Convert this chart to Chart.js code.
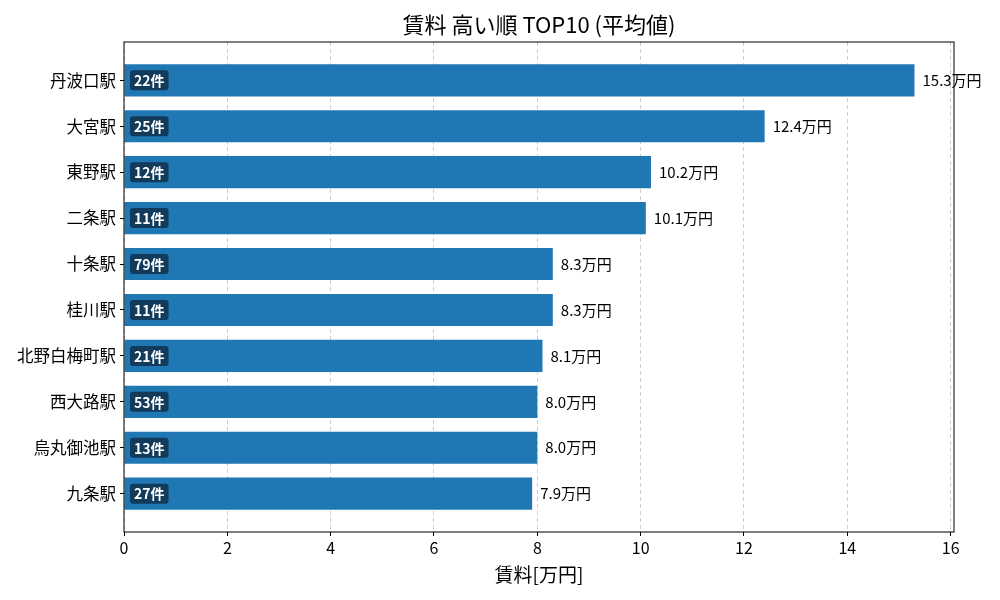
<!DOCTYPE html>
<html>
<head>
<meta charset="utf-8">
<script src="https://cdn.jsdelivr.net/npm/chart.js@4"></script>
<style>
  html, body { margin: 0; padding: 0; background: #fff; }
  #wrap { width: 1000px; height: 600px; }
</style>
</head>
<body>
<div id="wrap"><canvas id="chart" width="1000" height="600"></canvas></div>
<script>
// data
const stations = ['丹波口駅', '大宮駅', '東野駅', '二条駅', '十条駅', '桂川駅', '北野白梅町駅', '西大路駅', '烏丸御池駅', '九条駅'];
const avgRent = [15.3, 12.4, 10.2, 10.1, 8.3, 8.3, 8.1, 8.0, 8.0, 7.9];
const counts = [22, 25, 12, 11, 79, 11, 21, 53, 13, 27];
const xTicks = [0, 2, 4, 6, 8, 10, 12, 14, 16];

const FONT = '"Noto Sans CJK JP", "Noto Sans", sans-serif';
Chart.defaults.font.family = FONT;
Chart.defaults.color = '#000';

// title, axis title, frame and bar labels
const extras = {
    id: 'extras',
    afterDatasetsDraw(chart) {
        const { ctx, chartArea: a, scales: { x, y } } = chart;
        ctx.save();
        ctx.strokeStyle = '#000';
        ctx.lineWidth = 1;
        ctx.strokeRect(a.left, a.top, a.right - a.left, a.bottom - a.top);

        ctx.fillStyle = '#000';
        ctx.textAlign = 'center';
        ctx.textBaseline = 'middle';
        ctx.font = '22px ' + FONT;
        ctx.fillText('賃料 高い順 TOP10 (平均値)', (a.left + a.right) / 2, 25);
        ctx.font = '19px ' + FONT;
        ctx.fillText('賃料[万円]', (a.left + a.right) / 2, 575);

        avgRent.forEach((v, i) => {
            const yc = y.getPixelForValue(i);
            // value label at bar end
            ctx.fillStyle = '#000';
            ctx.textAlign = 'left';
            ctx.font = '15px ' + FONT;
            ctx.fillText(v.toFixed(1) + '万円', x.getPixelForValue(v) + 8, yc);
            // count badge
            const txt = counts[i] + '件';
            ctx.font = 'bold 14px ' + FONT;
            const w = ctx.measureText(txt).width + 8;
            const bx = x.getPixelForValue(0) + 6;
            ctx.fillStyle = '#123a5a';
            ctx.beginPath();
            ctx.roundRect(bx, yc - 10, w, 20, 3);
            ctx.fill();
            ctx.fillStyle = '#fff';
            ctx.fillText(txt, bx + 4, yc + 0.5);
        });
        ctx.restore();
    }
};

new Chart(document.getElementById('chart'), {
    type: 'bar',
    data: {
        datasets: [{
            data: avgRent.map((v, i) => ({ x: v, y: i })),
            backgroundColor: '#1f77b4',
            borderWidth: 0,
            categoryPercentage: 1,
            barPercentage: 0.7
        }]
    },
    options: {
        indexAxis: 'y',
        responsive: false,
        animation: false,
        layout: { padding: { top: 42, right: 46, left: 0, bottom: 0 } },
        plugins: { legend: { display: false }, tooltip: { enabled: false } },
        scales: {
            x: {
                type: 'linear',
                min: 0,
                max: 15.3 * 1.05,
                afterBuildTicks: s => { s.ticks = xTicks.map(v => ({ value: v })); },
                afterFit: s => { s.height = 68; },
                ticks: { font: { size: 16 }, padding: 2, maxRotation: 0 },
                grid: { color: '#cccccc', tickColor: '#000', tickLength: 4, lineWidth: 1 },
                border: { display: false, dash: [4, 3] }
            },
            y: {
                type: 'linear',
                reverse: true,
                offset: false,
                min: -0.835,
                max: 9.835,
                afterBuildTicks: s => { s.ticks = stations.map((_, i) => ({ value: i })); },
                afterFit: s => { s.width = 124; },
                ticks: { font: { size: 16.5 }, padding: 4, callback: v => stations[v] },
                grid: { offset: false, drawOnChartArea: false, tickColor: '#000', tickLength: 4 },
                border: { display: false }
            }
        }
    },
    plugins: [extras]
});
</script>
</body>
</html>
